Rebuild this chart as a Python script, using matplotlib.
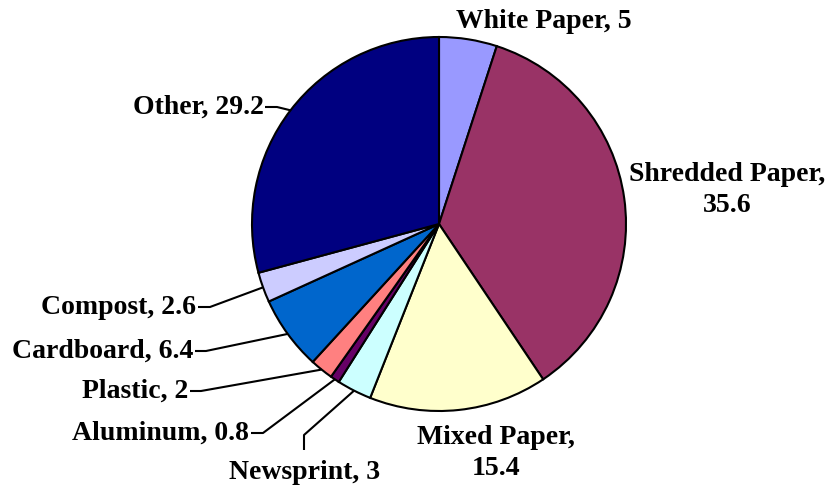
import numpy as np
import matplotlib.pyplot as plt

# recycling composition (percent by weight)
categories = ["White Paper", "Shredded Paper", "Mixed Paper", "Newsprint",
              "Aluminum", "Plastic", "Cardboard", "Compost", "Other"]
values = [5, 35.6, 15.4, 3, 0.8, 2, 6.4, 2.6, 29.2]
colors = ["#9999FF", "#993366", "#FFFFCC", "#CCFFFF", "#660066",
          "#FF8080", "#0066CC", "#CCCCFF", "#000080"]

W, H = 833, 490
fig = plt.figure(figsize=(W / 100, H / 100), dpi=100)
ax = fig.add_axes([0, 0, 1, 1])
ax.set_xlim(0, W)
ax.set_ylim(0, H)
ax.set_aspect("equal")
ax.axis("off")

cx, cy, r = 439, H - 224, 187
wedges, _ = ax.pie(values, colors=colors, startangle=90, counterclock=False,
                   center=(cx, cy), radius=r, frame=True,
                   wedgeprops=dict(edgecolor="black", linewidth=1.5))
ax.set_xlim(0, W)
ax.set_ylim(0, H)
ax.axis("off")

font = dict(family="Liberation Serif", fontweight="bold", fontsize=20)

# text anchor (pixels from top-left), alignment, and leader elbow (None = no leader)
layout = {
    "White Paper": ((544, 22), "center", None),
    "Shredded Paper": ((727, 190), "center", None),
    "Mixed Paper": ((496, 453), "center", None),
    "Newsprint": ((305, 472), "center", [(304, 450), (304, 435)]),
    "Aluminum": ((249, 433), "right", [(251, 433), (263, 433)]),
    "Plastic": ((188, 391), "right", [(190, 391), (201, 391)]),
    "Cardboard": ((193, 351), "right", [(195, 351), (206, 351)]),
    "Compost": ((196, 307), "right", [(198, 307), (210, 307)]),
    "Other": ((264, 107), "right", [(265, 107), (277, 107)]),
}

for w, name, v in zip(wedges, categories, values):
    (tx, ty), ha, elbow = layout[name]
    val = f"{v:g}"
    if name in ("Shredded Paper", "Mixed Paper"):
        label = f"{name},\n{val}"
    else:
        label = f"{name}, {val}"
    ax.text(tx, H - ty, label, ha=ha, va="center", linespacing=1.3, **font)
    if elbow is not None:
        mid = np.deg2rad((w.theta1 + w.theta2) / 2)
        ex, ey = cx + r * np.cos(mid), cy + r * np.sin(mid)
        xs = [p[0] for p in elbow] + [ex]
        ys = [H - p[1] for p in elbow] + [ey]
        ax.plot(xs, ys, color="black", linewidth=1.5, solid_capstyle="butt")

fig.savefig("out.png", dpi=100, facecolor="white")
